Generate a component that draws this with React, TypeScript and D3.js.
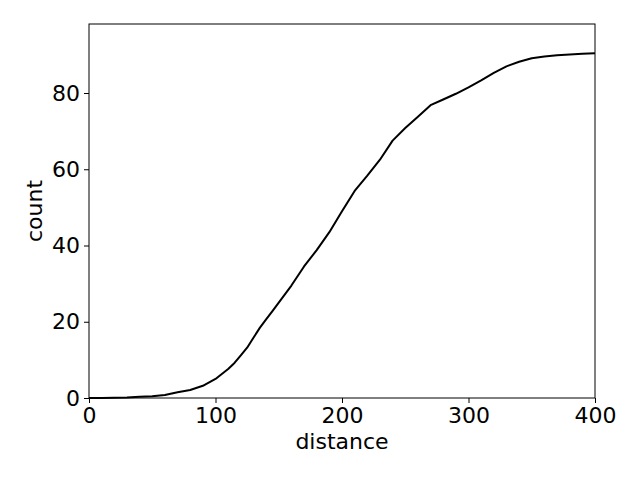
import React, { useEffect, useRef } from "react";
import * as d3 from "d3";

// cumulative count vs distance
const distance = [0, 10, 20, 30, 40, 50, 60, 70, 80, 90, 100, 110, 115, 120, 125, 130, 135, 140, 145, 150, 160, 170, 180, 190, 200, 210, 220, 230, 240, 250, 260, 270, 280, 290, 300, 310, 320, 330, 340, 350, 360, 370, 380, 390, 400];
const count = [0, 0, 0.05, 0.1, 0.3, 0.45, 0.8, 1.5, 2.1, 3.2, 5.0, 7.6, 9.2, 11.2, 13.2, 15.8, 18.4, 20.6, 22.8, 25, 29.5, 34.5, 38.8, 43.5, 49, 54.3, 58.3, 62.5, 67.5, 70.8, 73.8, 76.8, 78.3, 79.8, 81.5, 83.3, 85.3, 87, 88.2, 89.1, 89.6, 89.9, 90.1, 90.3, 90.4];
const xTicks = [0, 100, 200, 300, 400];
const yTicks = [0, 20, 40, 60, 80];

function App() {
  const ref = useRef(null);

  useEffect(() => {
    const svg = d3.select(ref.current);
    svg.selectAll("*").remove();

    const left = 89, right = 595, top = 24, bottom = 398;
    const x = d3.scaleLinear().domain([0, 400]).range([left, right]);
    const y = d3.scaleLinear().domain([0, 98.1]).range([bottom, top]);
    const font = "'DejaVu Sans', sans-serif";

    svg.append("rect").attr("width", 640).attr("height", 480).attr("fill", "white");

    const line = d3
      .line<number>()
      .x((d, i) => x(distance[i]))
      .y((d) => y(d));

    svg
      .append("path")
      .datum(count)
      .attr("d", line)
      .attr("fill", "none")
      .attr("stroke", "black")
      .attr("stroke-width", 2)
      .attr("stroke-linejoin", "round");

    // frame
    svg
      .append("rect")
      .attr("x", left)
      .attr("y", top)
      .attr("width", right - left)
      .attr("height", bottom - top)
      .attr("fill", "none")
      .attr("stroke", "black")
      .attr("stroke-width", 1);

    const xAxis = svg
      .append("g")
      .attr("transform", `translate(0,${bottom})`)
      .call(d3.axisBottom(x).tickValues(xTicks).tickSize(5).tickPadding(4).tickFormat(d3.format("d")));
    xAxis.select(".domain").remove();

    const yAxis = svg
      .append("g")
      .attr("transform", `translate(${left},0)`)
      .call(d3.axisLeft(y).tickValues(yTicks).tickSize(5).tickPadding(4).tickFormat(d3.format("d")));
    yAxis.select(".domain").remove();

    svg
      .selectAll(".tick text")
      .attr("font-family", font)
      .attr("font-size", 22)
      .attr("fill", "black");
    svg.selectAll(".tick line").attr("stroke", "black");

    svg
      .append("text")
      .attr("x", (left + right) / 2)
      .attr("y", 449)
      .attr("text-anchor", "middle")
      .attr("font-family", font)
      .attr("font-size", 22)
      .text("distance");

    svg
      .append("text")
      .attr("transform", `translate(42,${(top + bottom) / 2}) rotate(-90)`)
      .attr("text-anchor", "middle")
      .attr("font-family", font)
      .attr("font-size", 22)
      .text("count");
  }, []);

  return (
    <div style={{ position: "absolute", left: 0, top: 0 }}>
      <svg ref={ref} width="640" height="480"></svg>
    </div>
  );
}

export default App;
